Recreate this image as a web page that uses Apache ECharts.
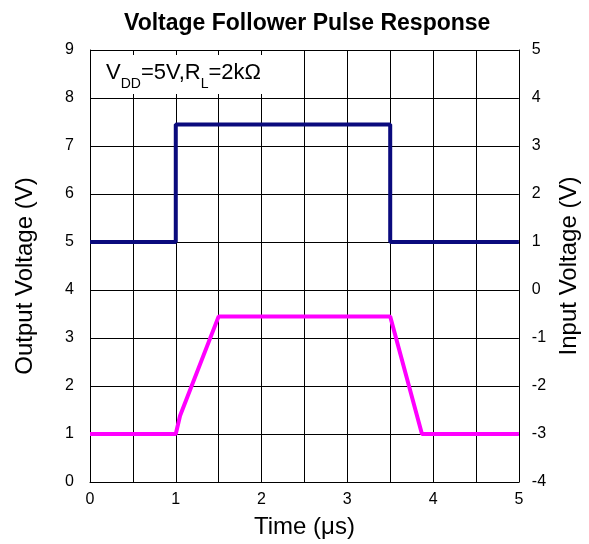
<!DOCTYPE html>
<html>
<head>
<meta charset="utf-8">
<script src="https://cdn.jsdelivr.net/npm/echarts@6/dist/echarts.min.js"></script>
<style>
  html, body { margin: 0; padding: 0; background: #fff; }
  #chart { width: 589px; height: 544px; }
</style>
</head>
<body>
<div id="chart"></div>
<script>
// input pulse (right axis, V)
const inputPulse = [[0, 1], [1.0, 1], [1.0, 3.45], [3.5, 3.45], [3.5, 1], [5, 1]];
// output response (left axis, V)
const outputResp = [[0, 1], [1.0, 1], [1.05, 1.38], [1.5, 3.45], [3.5, 3.45], [3.87, 1], [5, 1]];

const font = 'Liberation Sans, Arial, sans-serif';

const chart = echarts.init(document.getElementById('chart'));

chart.setOption({
  animation: false,
  backgroundColor: '#fff',
  title: {
    text: 'Voltage Follower Pulse Response',
    left: 119,
    top: 7,
    textStyle: { fontFamily: font, fontSize: 23, fontWeight: 'bold', color: '#000' }
  },
  grid: { left: 90, right: 70, top: 50, bottom: 60 },
  xAxis: {
    type: 'value',
    min: 0, max: 5, interval: 0.5,
    name: 'Time (μs)',
    nameLocation: 'middle',
    nameGap: 33,
    nameTextStyle: { fontFamily: font, fontSize: 24, color: '#000' },
    axisLine: { lineStyle: { color: '#000', width: 1 } },
    axisTick: { show: false },
    axisLabel: {
      fontFamily: font, fontSize: 16, color: '#000', margin: 10,
      formatter: v => (Number.isInteger(v) ? String(v) : '')
    },
    splitLine: { show: true, lineStyle: { color: '#000', width: 1 } }
  },
  yAxis: [
    {
      type: 'value',
      min: 0, max: 9, interval: 1,
      name: 'Output Voltage (V)',
      nameLocation: 'middle',
      nameGap: 53,
      nameTextStyle: { fontFamily: font, fontSize: 24, color: '#000', padding: [0, 20, 0, 0] },
      axisLine: { show: true, lineStyle: { color: '#000', width: 1 } },
      axisTick: { show: false },
      axisLabel: { fontFamily: font, fontSize: 16, color: '#000', margin: 16 },
      splitLine: { show: true, lineStyle: { color: '#000', width: 1 } }
    },
    {
      type: 'value',
      min: -4, max: 5, interval: 1,
      name: 'Input Voltage (V)',
      nameLocation: 'middle',
      nameGap: 38,
      nameRotate: 90,
      nameTextStyle: { fontFamily: font, fontSize: 24, color: '#000' },
      axisLine: { show: true, lineStyle: { color: '#000', width: 1 } },
      axisTick: { show: false },
      axisLabel: { fontFamily: font, fontSize: 16, color: '#000', margin: 13 },
      splitLine: { show: false }
    }
  ],
  graphic: [
    {
      type: 'rect',
      shape: { x: 91, y: 55, width: 174, height: 39 },
      style: { fill: '#fff' },
      z: 50
    },
    {
      type: 'text',
      x: 106, y: 60,
      z: 51,
      style: {
        text: '{m|V}{s|DD}{m|=5V,R}{s|L}{m|=2kΩ}',
        fontFamily: font,
        rich: {
          m: { fontFamily: font, fontSize: 22, color: '#000', lineHeight: 24, verticalAlign: 'bottom' },
          s: { fontFamily: font, fontSize: 14, color: '#000', lineHeight: 16, verticalAlign: 'bottom', padding: [0, 0, -7, 0] }
        }
      }
    }
  ],
  series: [
    {
      name: 'Input',
      type: 'line',
      yAxisIndex: 1,
      data: inputPulse,
      showSymbol: false,
      lineStyle: { color: '#0a0a7d', width: 4 },
      z: 3
    },
    {
      name: 'Output',
      type: 'line',
      yAxisIndex: 0,
      data: outputResp,
      showSymbol: false,
      lineStyle: { color: '#ff00ff', width: 4 },
      z: 3
    }
  ]
});
</script>
</body>
</html>
